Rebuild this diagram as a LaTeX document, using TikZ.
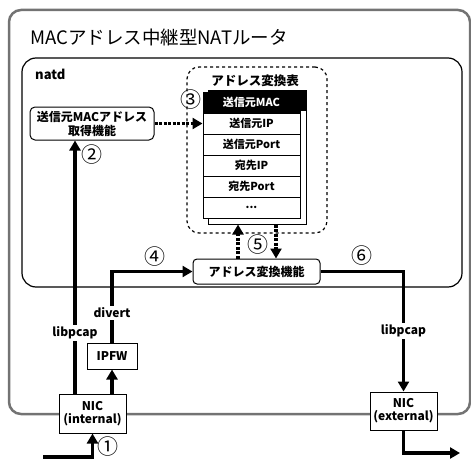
\documentclass[tikz,border=0pt]{standalone}
\usepackage{fontspec}
\setmainfont{Noto Sans CJK JP}
\usetikzlibrary{arrows.meta}
\tikzset{
  lbl/.style={font=\bfseries\fontsize{12}{14}\selectfont, inner sep=1.5pt, fill=white},
  box/.style={draw, line width=1pt, fill=white, align=center, inner sep=1pt,
              font=\bfseries\fontsize{12}{14}\selectfont},
  row/.style={draw, line width=1pt, fill=white, minimum width=97pt, minimum height=21pt,
              inner sep=0pt, font=\bfseries\fontsize{11}{12}\selectfont},
  flow/.style={line width=3.2pt, -{Triangle[length=10pt,width=11pt]}},
  dflow/.style={flow, dash pattern=on 3pt off 1.5pt},
  num/.style={font=\fontsize{21}{21}\selectfont, inner sep=0pt},
}
\begin{document}
\begin{tikzpicture}[x=1pt,y=-1pt]
\useasboundingbox (0,0) rectangle (471,460);
% outer router box
\node[draw=black!55, line width=2.5pt, rounded corners=12pt, minimum width=461pt,
      minimum height=404pt, inner sep=0pt] (router) at (239.5,212) {};
\node[anchor=west, font=\fontsize{18.5}{20}\selectfont, inner sep=0pt] (title) at (30,37)
  {MACアドレス中継型NATルータ};
% natd box
\node[draw, line width=1.2pt, rounded corners=14pt, minimum width=440pt,
      minimum height=229pt, inner sep=0pt] (natd) at (242,172.5) {};
\node[anchor=west, font=\bfseries\fontsize{13}{14}\selectfont, inner sep=0pt] (natdlbl) at (35,74) {natd};
% MAC acquisition box
\node[box, rounded corners=5pt, minimum width=124pt, minimum height=33pt] (mac) at (92,123.5)
  {送信元MACアドレス\\取得機能};
% address table group
\node[draw, dashed, line width=1.2pt, rounded corners=12pt, minimum width=140pt,
      minimum height=166pt, inner sep=0pt] (tblgroup) at (257,150) {};
\node[font=\bfseries\fontsize{12.5}{14}\selectfont, inner sep=0pt] (tbltitle) at (255,81) {アドレス変換表};
\node[draw, line width=1pt, fill=white, minimum width=98pt, minimum height=134pt,
      inner sep=0pt] (tblback) at (257,157) {};
\fill (tblback.north west) rectangle ([yshift=-21pt]tblback.north east);
\node[row, fill=black, text=white] (r0) at (251.5,102.5) {送信元MAC};
\node[row] (r1) at (251.5,123.5) {送信元IP};
\node[row] (r2) at (251.5,144.5) {送信元Port};
\node[row] (r3) at (251.5,165.5) {宛先IP};
\node[row] (r4) at (251.5,186.5) {宛先Port};
\node[row] (r5) at (251.5,207.5) {...};
% address conversion box
\node[box, rounded corners=4pt, minimum width=127pt, minimum height=25pt] (conv) at (256.5,271.5)
  {アドレス変換機能};
% NICs and IPFW
\node[box, minimum width=50pt, minimum height=26pt] (ipfw) at (112,356) {IPFW};
\node[box, minimum width=67pt, minimum height=39pt, font=\bfseries\fontsize{12}{13}\selectfont]
  (nicin) at (92.5,413.5) {NIC\\(internal)};
\node[box, minimum width=67pt, minimum height=38pt, font=\bfseries\fontsize{12}{13}\selectfont]
  (nicex) at (403.5,411) {NIC\\(external)};
% coordinates
\coordinate (in1) at (43,457);
\coordinate (x2) at (75,0);
\coordinate (x5u) at (238,0);
\coordinate (x5d) at (276,0);
\coordinate (out) at (460,453);
% connectors
\draw[flow] (in1) -| (nicin.south);
\draw[flow] (nicin.north -| ipfw.south) -- (ipfw.south);
\draw[flow] (nicin.north -| x2) -- (mac.south -| x2);
\draw[dflow] (mac.east) -- (r1.west);
\draw[flow] (ipfw.north) |- (conv.west);
\draw[dflow] (conv.north -| x5u) -- (tblback.south -| x5u);
\draw[dflow] (tblback.south -| x5d) -- (conv.north -| x5d);
\draw[flow] (conv.east) -| (nicex.north);
\draw[flow] (nicex.south) |- (out);
% labels on lines
\node[lbl] (lp1) at (75,333) {libpcap};
\node[lbl] (dv) at (112,313) {divert};
\node[lbl] (lp2) at (403.5,331) {libpcap};
% step numbers
\node[num] (n1) at (108,447) {①};
\node[num] (n2) at (92,155) {②};
\node[num] (n3) at (191,100) {③};
\node[num] (n4) at (155,257) {④};
\node[num] (n5) at (258,245) {⑤};
\node[num] (n6) at (362,256) {⑥};
\end{tikzpicture}
\end{document}
